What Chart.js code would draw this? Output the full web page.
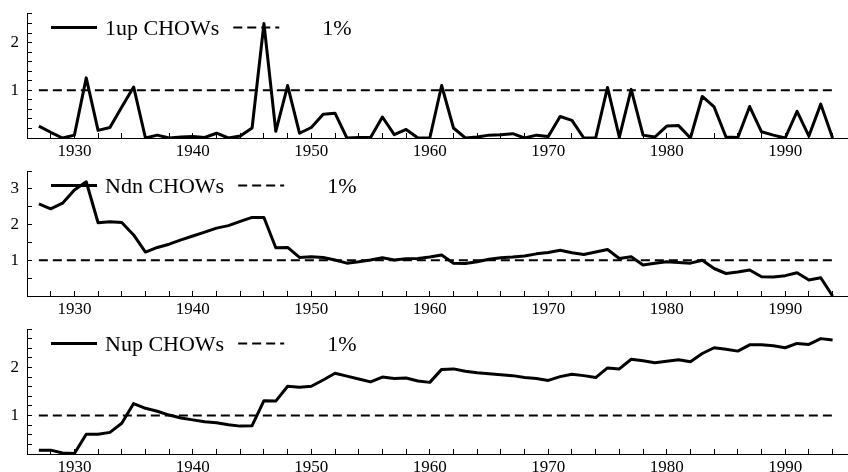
<!DOCTYPE html>
<html>
<head>
<meta charset="utf-8">
<script src="https://cdn.jsdelivr.net/npm/chart.js@4/dist/chart.umd.min.js"></script>
<style>
  html, body { margin: 0; padding: 0; background: #fff; }
  #wrap { position: relative; width: 848px; height: 472px; }
  canvas { position: absolute; left: 0; }
</style>
</head>
<body>
<div id="wrap">
  <canvas id="panel1" width="848" height="158" style="top:0px"></canvas>
  <canvas id="panel2" width="848" height="158" style="top:158px"></canvas>
  <canvas id="panel3" width="848" height="156" style="top:316px"></canvas>
</div>
<script>
const years = [1927, 1928, 1929, 1930, 1931, 1932, 1933, 1934, 1935, 1936, 1937, 1938, 1939, 1940,
  1941, 1942, 1943, 1944, 1945, 1946, 1947, 1948, 1949, 1950, 1951, 1952, 1953, 1954, 1955, 1956,
  1957, 1958, 1959, 1960, 1961, 1962, 1963, 1964, 1965, 1966, 1967, 1968, 1969, 1970, 1971, 1972,
  1973, 1974, 1975, 1976, 1977, 1978, 1979, 1980, 1981, 1982, 1983, 1984, 1985, 1986, 1987, 1988,
  1989, 1990, 1991, 1992, 1993, 1994];

const up1Chows = [0.25, 0.12, 0, 0.06, 1.26, 0.16, 0.22, 0.65, 1.07, 0, 0.06, 0, 0.02, 0.03,
  0.01, 0.1, 0, 0.04, 0.21, 2.4, 0.14, 1.1, 0.1, 0.22, 0.5, 0.52, 0, 0.01, 0.01, 0.44,
  0.07, 0.18, 0, 0, 1.1, 0.21, 0, 0.02, 0.06, 0.07, 0.09, 0, 0.06, 0.03, 0.45, 0.37,
  0, 0, 1.06, 0.02, 1.02, 0.06, 0.02, 0.25, 0.26, 0, 0.87, 0.65, 0.02, 0.01, 0.66, 0.13,
  0.06, 0, 0.56, 0.04, 0.71, 0];

const ndnChows = [2.58, 2.44, 2.6, 2.97, 3.2, 2.05, 2.08, 2.06, 1.71, 1.23, 1.36, 1.45, 1.57, 1.68,
  1.79, 1.9, 1.97, 2.09, 2.2, 2.2, 1.35, 1.36, 1.08, 1.1, 1.08, 1.01, 0.92, 0.96, 1.01, 1.07,
  1.01, 1.04, 1.05, 1.09, 1.15, 0.92, 0.91, 0.96, 1.03, 1.07, 1.09, 1.12, 1.18, 1.22, 1.28, 1.21,
  1.16, 1.23, 1.3, 1.05, 1.1, 0.87, 0.92, 0.96, 0.94, 0.92, 1.0, 0.77, 0.63, 0.67, 0.73, 0.54,
  0.53, 0.57, 0.65, 0.45, 0.51, 0];

const nupChows = [0.28, 0.28, 0.22, 0.21, 0.61, 0.61, 0.65, 0.84, 1.25, 1.15, 1.09, 1.01, 0.95, 0.91,
  0.87, 0.85, 0.81, 0.78, 0.79, 1.31, 1.3, 1.61, 1.59, 1.61, 1.74, 1.88, 1.82, 1.76, 1.7, 1.8,
  1.77, 1.78, 1.72, 1.69, 1.96, 1.97, 1.92, 1.89, 1.87, 1.85, 1.83, 1.79, 1.77, 1.73, 1.81, 1.86,
  1.83, 1.79, 1.99, 1.97, 2.17, 2.14, 2.1, 2.13, 2.16, 2.12, 2.29, 2.41, 2.38, 2.34, 2.47, 2.47,
  2.45, 2.41, 2.5, 2.48, 2.6, 2.57];

// the 1% critical value line
const pctLevel = 1;
const pctLabel = '1%';

Chart.defaults.font.family = '"Liberation Serif", "Times New Roman", serif';
Chart.defaults.font.size = 17;
Chart.defaults.color = '#000';

// legend drawn by hand: solid sample + text, dashed sample + text
const lineLegend = {
  id: 'lineLegend',
  afterDraw(chart) {
    const ctx = chart.ctx;
    const area = chart.chartArea;
    const y = area.top + 14.5;
    let x = area.left + 24;
    ctx.save();
    ctx.font = '22px "Liberation Serif", serif';
    ctx.fillStyle = '#000';
    ctx.textBaseline = 'alphabetic';
    chart.data.datasets.forEach((ds, i) => {
      ctx.strokeStyle = ds.borderColor;
      ctx.lineWidth = ds.borderWidth;
      ctx.setLineDash(ds.borderDash || []);
      ctx.beginPath();
      ctx.moveTo(x, y);
      ctx.lineTo(x + 46, y);
      ctx.stroke();
      x += 46 + (i === 0 ? 8 : 43);
      ctx.fillText(ds.label, x, y + 7);
      x += ctx.measureText(ds.label).width + 14;
    });
    ctx.restore();
  }
};

const makePanel = (id, label, values, yMin, yMax, yStep, xHeight) => {
  return new Chart(id, {
    type: 'line',
    data: {
      datasets: [
        {
          label: label,
          data: years.map((yr, i) => ({ x: yr, y: values[i] })),
          borderColor: '#000',
          borderWidth: 3,
          borderJoinStyle: 'round',
          pointRadius: 0,
          tension: 0,
          fill: false,
        },
        {
          label: pctLabel,
          data: years.map((yr) => ({ x: yr, y: pctLevel })),
          borderColor: '#000',
          borderWidth: 2,
          borderDash: [9, 5],
          pointRadius: 0,
          fill: false,
        },
      ]
    },
    options: {
      responsive: false,
      animation: false,
      layout: { padding: { top: 13, left: 0, right: 0, bottom: 0 } },
      plugins: { legend: { display: false }, tooltip: { enabled: false } },
      scales: {
        x: {
          type: 'linear',
          min: 1926,
          max: 1995.3,
          afterFit: (s) => { s.height = xHeight; s.paddingLeft = 0; s.paddingRight = 0; },
          border: { color: '#000', width: 1 },
          grid: { drawOnChartArea: false, tickLength: -5, color: '#000' },
          ticks: {
            stepSize: 2,
            includeBounds: false,
            autoSkip: false,
            maxRotation: 0,
            padding: 8,
            callback: (v) => (v % 10 === 0 ? String(v) : ''),
          }
        },
        y: {
          min: yMin,
          max: yMax,
          afterFit: (s) => { s.width = 27; s.paddingTop = 0; s.paddingBottom = 0; },
          border: { color: '#000', width: 1 },
          grid: { drawOnChartArea: false, tickLength: -5, color: '#000' },
          ticks: {
            stepSize: yStep,
            includeBounds: false,
            autoSkip: false,
            padding: 13,
            callback: (v) => (Math.abs(v - Math.round(v)) < 1e-6 && v !== 0 ? String(Math.round(v)) : ''),
          }
        }
      }
    },
    plugins: [lineLegend]
  });
};

makePanel('panel1', '1up CHOWs', up1Chows, 0, 2.62, 0.2, 20);
makePanel('panel2', 'Ndn CHOWs', ndnChows, 0, 3.5, 0.5, 20);
makePanel('panel3', 'Nup CHOWs', nupChows, 0.2, 2.8, 0.2, 18);
</script>
</body>
</html>
